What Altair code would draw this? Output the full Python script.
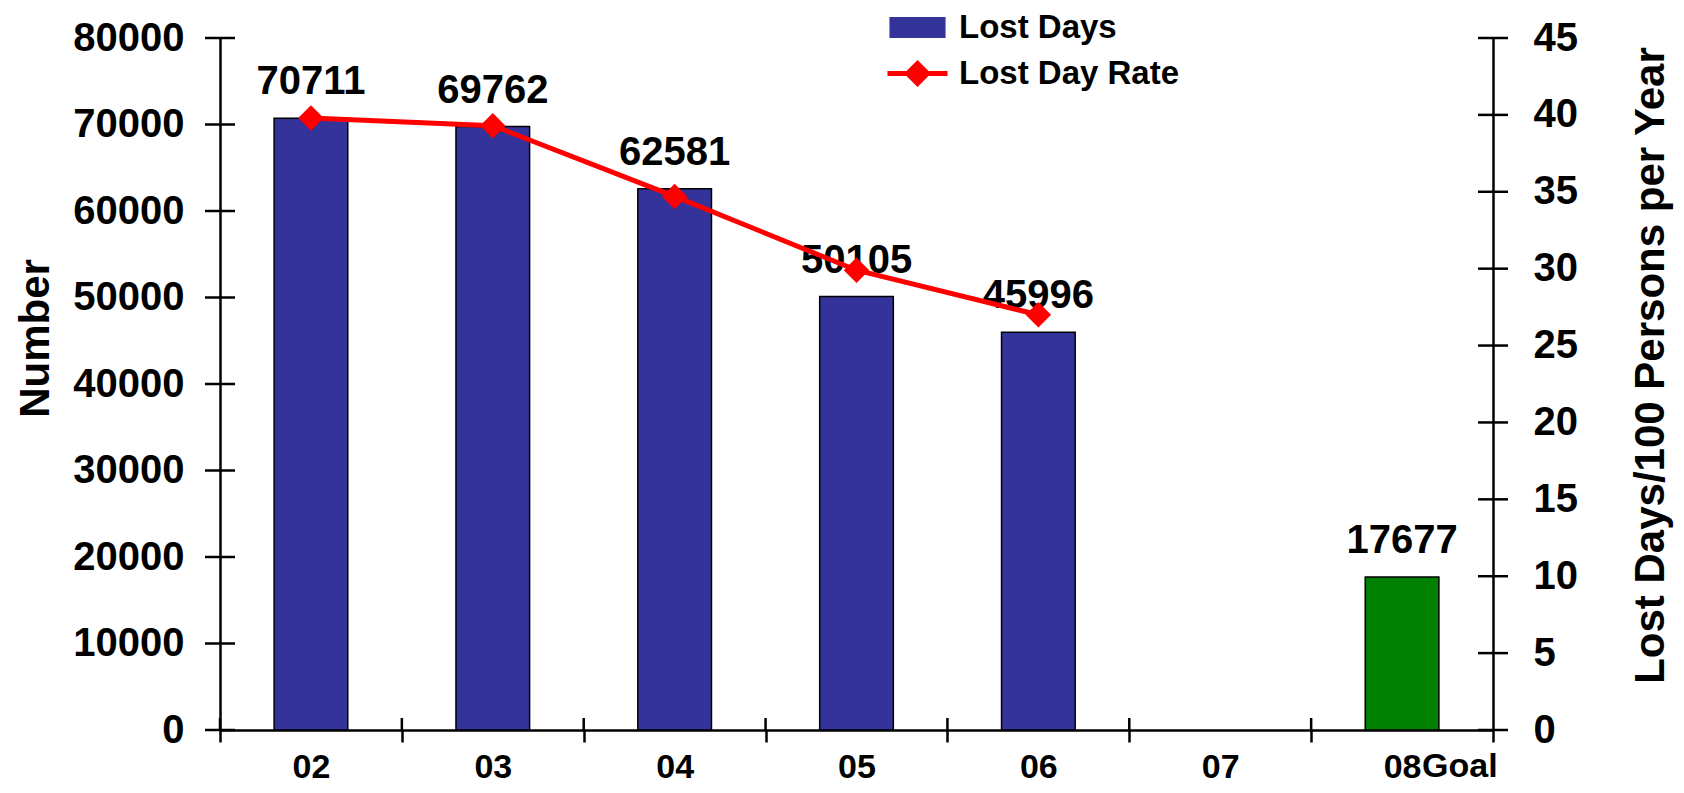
import altair as alt
import pandas as pd

# ---- data ----
categories = ["02", "03", "04", "05", "06", "07", "08"]
lost_days = [70711, 69762, 62581, 50105, 45996, None, 17677]
lost_day_rate = [39.8, 39.3, 34.7, 29.9, 27.0, None, None]
goal_category = "08"
goal_note = ["Goal"]
left_tick_values = [0, 10000, 20000, 30000, 40000, 50000, 60000, 70000, 80000]
right_tick_values = [0, 5, 10, 15, 20, 25, 30, 35, 40, 45]
bar_series = ["Lost Days"]
line_series = ["Lost Day Rate"]

# ---- style ----
W, H = 1273, 692
FONT = "Liberation Sans"
NAVY = "#333399"
GREEN = "#008000"
RED = "#FF0000"

df = pd.DataFrame({"cat": categories, "lost": lost_days, "rate": lost_day_rate})
lt_df = pd.DataFrame({"yt": left_tick_values})
rt_df = pd.DataFrame({"rt": right_tick_values})
cat_df = pd.DataFrame({"cat": categories})
goal_df = pd.DataFrame({"cat": [goal_category], "note": goal_note})
bar_leg_df = pd.DataFrame({"s1": bar_series})
line_leg_df = pd.DataFrame({"s2": line_series})

xscale = alt.Scale(domain=categories, paddingInner=0, paddingOuter=0)
xaxis = alt.Axis(title=None, labelAngle=0, labelFont=FONT, labelFontSize=34,
                 labelFontWeight="bold", labelColor="black", labelPadding=8,
                 tickBand="extent", tickSize=12, tickWidth=2.5, tickColor="black",
                 domainColor="black", domainWidth=2.5, grid=False)

lscale = alt.Scale(domain=[0, 80000], nice=False, zero=True)
laxis = alt.Axis(title="Number", values=left_tick_values, format="d",
                 labelFont=FONT, labelFontSize=40, labelFontWeight="bold",
                 labelColor="black", labelPadding=36, ticks=False, tickSize=0,
                 domainColor="black", domainWidth=2.5, grid=False,
                 titleFont=FONT, titleFontSize=42, titleFontWeight="bold",
                 titleColor="black", titleAngle=270, titleAlign="center",
                 titleBaseline="alphabetic", titleX=-172, titleY=300)

rscale = alt.Scale(domain=[0, 45], nice=False, zero=True)
raxis = alt.Axis(title="Lost Days/100 Persons per Year", orient="right",
                 values=right_tick_values, format="d",
                 labelFont=FONT, labelFontSize=40, labelFontWeight="bold",
                 labelColor="black", labelPadding=40, ticks=False, tickSize=0,
                 domainColor="black", domainWidth=2.5, grid=False,
                 titleFont=FONT, titleFontSize=42, titleFontWeight="bold",
                 titleColor="black", titleAngle=270, titleAlign="center",
                 titleBaseline="alphabetic", titleX=170, titleY=327)

X = alt.X("cat:N", scale=xscale, axis=xaxis)

bars = alt.Chart(df).mark_bar(width={"band": 0.405}, stroke="black", strokeWidth=1.5).encode(
    x=X,
    y=alt.Y("lost:Q", scale=lscale, axis=laxis),
    color=alt.condition(f"datum.cat == '{goal_category}'", alt.value(GREEN), alt.value(NAVY)),
)

labels = alt.Chart(df).mark_text(baseline="alphabetic", dy=-24, fontSize=40,
                                 fontWeight="bold", font=FONT, color="black").encode(
    x=X,
    y=alt.Y("lost:Q", scale=lscale, axis=laxis),
    text=alt.Text("lost:Q", format="d"),
)

left_ticks = alt.Chart(lt_df).mark_tick(orient="horizontal", size=30, thickness=2.5,
                                        color="black", opacity=1).encode(
    y=alt.Y("yt:Q", scale=lscale, axis=laxis),
    x=alt.value(0),
)

x_inner_ticks = alt.Chart(cat_df).mark_tick(orient="vertical", size=12, thickness=2.5,
                                            color="black", opacity=1).encode(
    x=alt.X("cat:N", scale=xscale, axis=xaxis, bandPosition=0),
    y=alt.value(H - 6),
)

goal_text = alt.Chart(goal_df).mark_text(align="left", baseline="top", dx=20, fontSize=34,
                                         fontWeight="bold", font=FONT, color="black").encode(
    x=X,
    y=alt.value(H + 20),
    text="note:N",
)

line = alt.Chart(df).mark_line(color=RED, strokeWidth=5).encode(
    x=X,
    y=alt.Y("rate:Q", scale=rscale, axis=raxis),
)

points = alt.Chart(df).mark_point(shape="diamond", filled=True, size=650, color=RED, opacity=1).encode(
    x=X,
    y=alt.Y("rate:Q", scale=rscale, axis=raxis),
)

right_ticks = alt.Chart(rt_df).mark_tick(orient="horizontal", size=30, thickness=2.5,
                                         color="black", opacity=1).encode(
    y=alt.Y("rt:Q", scale=rscale, axis=raxis),
    x=alt.value(W),
)

# legend symbols (custom paths in unit coordinates; 1 unit = 15 px for size 900)
rect_path = "M-1.87,-0.7H1.87V0.7H-1.87Z"
line_path = "M-2,-0.167H-0.733L0,-0.9L0.733,-0.167H2V0.167H0.733L0,0.9L-0.733,0.167H-2Z"

def make_legend(y, stroke_color, stroke_width):
    return alt.Legend(title=None, orient="none", legendX=681, legendY=y, padding=0,
                      symbolSize=900, symbolStrokeColor=stroke_color,
                      symbolStrokeWidth=stroke_width, symbolOpacity=1,
                      labelFont=FONT, labelFontSize=33, labelFontWeight="bold",
                      labelColor="black", labelOffset=25, labelLimit=500)

leg_a = make_legend(-27, "black", 1.5)
leg_b = make_legend(19, RED, 0.5)

# legend carriers: drawn far outside the visible canvas, they only provide the legend
bar_legend_layer = alt.Chart(bar_leg_df).mark_point(filled=True, size=900).encode(
    x=alt.value(-5000),
    y=alt.value(-5000),
    fill=alt.Fill("s1:N", scale=alt.Scale(domain=bar_series, range=[NAVY]), legend=leg_a),
    shape=alt.Shape("s1:N", scale=alt.Scale(domain=bar_series, range=[rect_path]), legend=leg_a),
)
line_legend_layer = alt.Chart(line_leg_df).mark_point(filled=True, size=900).encode(
    x=alt.value(-5000),
    y=alt.value(-5000),
    fill=alt.Fill("s2:N", scale=alt.Scale(domain=line_series, range=[RED]), legend=leg_b),
    shape=alt.Shape("s2:N", scale=alt.Scale(domain=line_series, range=[line_path]), legend=leg_b),
)

left = alt.layer(bars, labels, left_ticks, x_inner_ticks, goal_text)
right = alt.layer(line, points, right_ticks)

chart = alt.layer(left, right, bar_legend_layer, line_legend_layer).resolve_scale(
    y="independent", fill="independent", shape="independent"
).properties(
    width=W, height=H,
    padding={"left": 212, "top": 30, "right": 183, "bottom": 55},
    autosize=alt.AutoSizeParams(type="none"),
    background="white",
).configure_view(stroke=None)

chart.save("out.html", embed_options={"renderer": "svg", "actions": False})
